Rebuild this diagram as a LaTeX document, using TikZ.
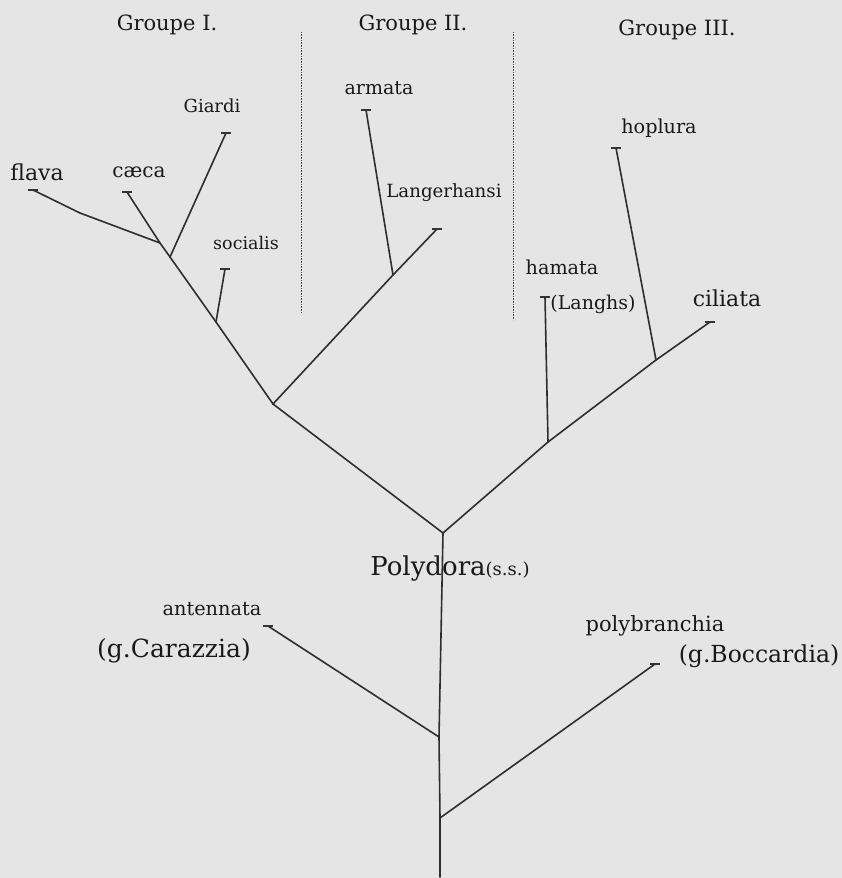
\documentclass[tikz,border=0pt]{standalone}
\usepackage{fontspec}
\setmainfont{DejaVu Serif}
\begin{document}
\begin{tikzpicture}[x=1pt,y=-1pt,
  br/.style={line width=1.6pt,draw=black!82,line cap=round,line join=round},
  tickmark/.style={line width=1.1pt,draw=black!80},
  sep/.style={line width=0.9pt,draw=black!70,dash pattern=on 0.8pt off 0.8pt},
  lbl/.style={inner sep=0pt,anchor=center,text=black!90},
]
\definecolor{bgc}{RGB}{229,229,229}
\fill[bgc] (0,0) rectangle (842,878);
\useasboundingbox (0,0) rectangle (842,878);

% group headings
\node[lbl,font=\fontsize{21}{24}\selectfont] (g1) at (167,25) {Groupe I.};
\node[lbl,font=\fontsize{21}{24}\selectfont] (g2) at (413,25) {Groupe II.};
\node[lbl,font=\fontsize{21}{24}\selectfont] (g3) at (677,30) {Groupe III.};

% separators
\coordinate (d1t) at (301,32); \coordinate (d1b) at (301,313);
\coordinate (d2t) at (513,32); \coordinate (d2b) at (513,320);
\draw[sep] (d1t) -- (d1b);
\draw[sep] (d2t) -- (d2b);

% junction points
\coordinate (R) at (440,877);
\coordinate (P2) at (440,818);
\coordinate (P1) at (439,737);
\coordinate (F) at (443,533);
\coordinate (A) at (273,404);
\coordinate (S) at (216,322);
\coordinate (B) at (170,257);
\coordinate (C) at (160,243);
\coordinate (M) at (393,275);
\coordinate (H) at (548,442);
\coordinate (K) at (656,360);
\coordinate (fl2) at (80,213);

% tips
\coordinate (tflava) at (33,190);
\coordinate (tcaeca) at (127,192);
\coordinate (tgiardi) at (226,133);
\coordinate (tsocialis) at (225,269);
\coordinate (tarmata) at (366,110);
\coordinate (tlanger) at (437,229);
\coordinate (thamata) at (545,297);
\coordinate (thoplura) at (616,148);
\coordinate (tciliata) at (710,322);
\coordinate (tantenn) at (268,626);
\coordinate (tpolyb) at (655,664);

% branches
\draw[br] (R) -- (P2) -- (P1) -- (F);
\draw[br] (F) -- (A) -- (S) -- (B) -- (C) -- (tcaeca);
\draw[br] (tflava) -- (fl2) -- (C);
\draw[br] (B) -- (tgiardi);
\draw[br] (S) -- (tsocialis);
\draw[br] (A) -- (M) -- (tlanger);
\draw[br] (M) -- (tarmata);
\draw[br] (F) -- (H) -- (K) -- (tciliata);
\draw[br] (H) -- (thamata);
\draw[br] (K) -- (thoplura);
\draw[br] (P1) -- (tantenn);
\draw[br] (P2) -- (tpolyb);

% tip ticks
\foreach \t in {tflava,tcaeca,tgiardi,tsocialis,tarmata,tlanger,thamata,thoplura,tciliata,tantenn,tpolyb}
  \draw[tickmark] ([xshift=-5pt]\t) -- ([xshift=5pt]\t);

% species labels
\node[lbl,font=\fontsize{18}{22}\selectfont] (lgiardi) at (212,106) {Giardi};
\node[lbl,font=\fontsize{22}{24}\selectfont] (lflava) at (37,172) {flava};
\node[lbl,font=\fontsize{20}{24}\selectfont] (lcaeca) at (139,172) {cæca};
\node[lbl,font=\fontsize{17.5}{22}\selectfont] (lsocialis) at (246,243) {socialis};
\node[lbl,font=\fontsize{19}{22}\selectfont] (larmata) at (379,88) {armata};
\node[lbl,font=\fontsize{18.2}{22}\selectfont] (llanger) at (444,193) {Langerhansi};
\node[lbl,font=\fontsize{19.2}{24}\selectfont] (lhoplura) at (659,128) {hoplura};
\node[lbl,font=\fontsize{19.2}{24}\selectfont] (lhamata) at (562,267) {hamata};
\node[lbl,font=\fontsize{19}{22}\selectfont] (llanghs) at (593,304) {(Langhs)};
\node[lbl,font=\fontsize{22}{24}\selectfont] (lciliata) at (727,298) {ciliata};
\node[lbl] (lpoly) at (450,569) {\fontsize{26}{30}\selectfont Polydora\fontsize{18}{22}\selectfont(s.s.)};
\node[lbl,font=\fontsize{19.3}{24}\selectfont] (lantenn) at (212,609) {antennata};
\node[lbl,font=\fontsize{25}{28}\selectfont] (lcarazz) at (174,651) {(g.Carazzia)};
\node[lbl,font=\fontsize{21}{26}\selectfont] (lpolyb) at (655,626) {polybranchia};
\node[lbl,font=\fontsize{23.5}{28}\selectfont] (lbocc) at (759,656) {(g.Boccardia)};
\end{tikzpicture}
\end{document}
